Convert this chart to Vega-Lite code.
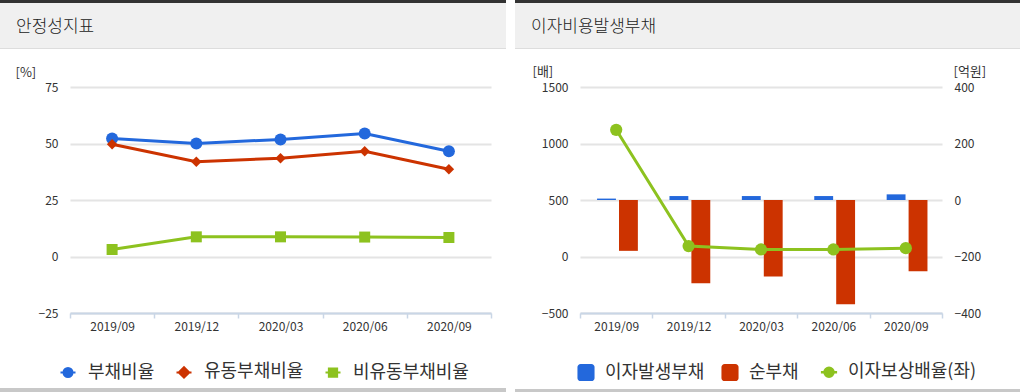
{
  "$schema": "https://vega.github.io/schema/vega-lite/v6.json",
  "padding": 0,
  "background": "white",
  "config": {
    "font": "Noto Sans CJK KR",
    "view": {"stroke": null},
    "axis": {"labelColor": "#333333", "labelFontSize": 12, "titleColor": "#333333", "titleFontWeight": "normal", "titleFontSize": 13},
    "legend": {"labelColor": "#333333", "labelFontSize": 18}
  },
  "datasets": {
    "left": [
      {"date": "2019/09", "series": "부채비율", "value": 52.2},
      {"date": "2019/12", "series": "부채비율", "value": 50.0},
      {"date": "2020/03", "series": "부채비율", "value": 51.8},
      {"date": "2020/06", "series": "부채비율", "value": 54.4},
      {"date": "2020/09", "series": "부채비율", "value": 46.6},
      {"date": "2019/09", "series": "유동부채비율", "value": 49.7},
      {"date": "2019/12", "series": "유동부채비율", "value": 41.9},
      {"date": "2020/03", "series": "유동부채비율", "value": 43.5},
      {"date": "2020/06", "series": "유동부채비율", "value": 46.6},
      {"date": "2020/09", "series": "유동부채비율", "value": 38.6},
      {"date": "2019/09", "series": "비유동부채비율", "value": 3.1},
      {"date": "2019/12", "series": "비유동부채비율", "value": 8.7},
      {"date": "2020/03", "series": "비유동부채비율", "value": 8.7},
      {"date": "2020/06", "series": "비유동부채비율", "value": 8.6},
      {"date": "2020/09", "series": "비유동부채비율", "value": 8.4}
    ],
    "bars": [
      {"date": "2019/09", "series": "이자발생부채", "value": 5},
      {"date": "2019/12", "series": "이자발생부채", "value": 14},
      {"date": "2020/03", "series": "이자발생부채", "value": 14},
      {"date": "2020/06", "series": "이자발생부채", "value": 14},
      {"date": "2020/09", "series": "이자발생부채", "value": 20},
      {"date": "2019/09", "series": "순부채", "value": -180},
      {"date": "2019/12", "series": "순부채", "value": -295},
      {"date": "2020/03", "series": "순부채", "value": -271},
      {"date": "2020/06", "series": "순부채", "value": -369},
      {"date": "2020/09", "series": "순부채", "value": -252}
    ],
    "ratio": [
      {"date": "2019/09", "value": 1121},
      {"date": "2019/12", "value": 92},
      {"date": "2020/03", "value": 62},
      {"date": "2020/06", "value": 62},
      {"date": "2020/09", "value": 74}
    ]
  },
  "spacing": 9,
  "resolve": {"scale": {"color": "independent"}, "legend": {"color": "independent"}},
  "hconcat": [
    {
      "spacing": 0,
      "resolve": {"scale": {"color": "independent"}, "legend": {"color": "independent"}},
      "vconcat": [
        {"width": 506, "height": 3, "data": {"values": []}, "mark": "point", "view": {"fill": "#333333", "stroke": null}},
        {"width": 506, "height": 45, "data": {"values": []}, "mark": "point", "view": {"fill": "#f0f0f0", "stroke": null},
         "title": {"text": "안정성지표", "anchor": "start", "frame": "group", "offset": 0, "dx": 16, "dy": 46, "baseline": "alphabetic", "fontSize": 17, "fontWeight": 300, "color": "#222222"}},
        {"width": 506, "height": 1, "data": {"values": []}, "mark": "point", "view": {"fill": "#dddddd", "stroke": null}},
        {"width": 506, "height": 17, "data": {"values": []}, "mark": "point"},
        {
          "width": 506,
          "height": 226,
          "data": {"name": "left"},
          "encoding": {
            "x": {"field": "date", "type": "ordinal", "scale": {"type": "band", "paddingInner": 0, "paddingOuter": 0, "range": [70, 491]},
                  "axis": {"title": null, "labelAngle": 0, "domainColor": "#c9d6e6", "domainWidth": 2, "tickColor": "#c9d6e6", "tickWidth": 1.5, "tickSize": 5, "tickBand": "extent", "labelPadding": 3, "grid": false}},
            "y": {"field": "value", "type": "quantitative", "scale": {"domain": [-25, 75], "nice": false, "zero": false},
                  "axis": {"values": [-25, 0, 25, 50, 75], "offset": -70, "domain": false, "ticks": false, "grid": true, "gridColor": "#e4e4e4", "gridWidth": 2, "labelPadding": 12, "title": "[%]", "titleAngle": 0, "titleAlign": "left", "titleBaseline": "middle", "titleX": -55, "titleY": -15}}
          },
          "layer": [
            {"mark": {"type": "line", "strokeWidth": 3},
             "encoding": {
               "color": {"field": "series", "type": "nominal",
                      "scale": {"domain": ["부채비율", "유동부채비율", "비유동부채비율"], "range": ["#2368dc", "#cc3300", "#8dc21f"]},
                      "legend": {"orient": "none", "legendX": 59, "legendY": 276, "direction": "horizontal", "title": null, "symbolSize": 225, "labelOffset": 11, "columnPadding": 17,
                                 "encoding": {"symbols": {
                                   "shape": {"value": {"expr": "datum.value === '부채비율' ? 'M-1,0H1M-0.6,0A0.6,0.6 0 1 1 0.6,0A0.6,0.6 0 1 1 -0.6,0Z' : datum.value === '유동부채비율' ? 'M-1,0H1M-0.7,0L0,-0.7L0.7,0L0,0.7Z' : 'M-1,0H1M-0.55,-0.55H0.55V0.55H-0.55Z'"}},
                                   "fill": {"value": {"expr": "datum.value === '부채비율' ? '#2368dc' : datum.value === '유동부채비율' ? '#cc3300' : '#8dc21f'"}},
                                   "stroke": {"value": {"expr": "datum.value === '부채비율' ? '#2368dc' : datum.value === '유동부채비율' ? '#cc3300' : '#8dc21f'"}},
                                   "strokeWidth": {"value": 2},
                                   "opacity": {"value": 1},
                                   "fillOpacity": {"value": 1}
                                 }}}}}},
            {"transform": [{"filter": "datum.series === '부채비율'"}],
             "mark": {"type": "point", "filled": true, "opacity": 1, "shape": "circle", "size": 144, "color": "#2368dc"}},
            {"transform": [{"filter": "datum.series === '유동부채비율'"}],
             "mark": {"type": "point", "filled": true, "opacity": 1, "shape": "diamond", "size": 110, "color": "#cc3300"}},
            {"transform": [{"filter": "datum.series === '비유동부채비율'"}],
             "mark": {"type": "point", "filled": true, "opacity": 1, "shape": "square", "size": 121, "color": "#8dc21f"}}
          ]
        },
        {"width": 506, "height": 6, "data": {"values": []}, "mark": "point"},
        {"width": 506, "height": 4, "data": {"values": []}, "mark": "point", "view": {"fill": "#c8c8c8", "stroke": null}}
      ]
    },
    {
      "spacing": 0,
      "resolve": {"scale": {"color": "independent"}, "legend": {"color": "independent"}},
      "vconcat": [
        {"width": 505, "height": 3, "data": {"values": []}, "mark": "point", "view": {"fill": "#333333", "stroke": null}},
        {"width": 505, "height": 45, "data": {"values": []}, "mark": "point", "view": {"fill": "#f0f0f0", "stroke": null},
         "title": {"text": "이자비용발생부채", "anchor": "start", "frame": "group", "offset": 0, "dx": 16, "dy": 46, "baseline": "alphabetic", "fontSize": 17, "fontWeight": 300, "color": "#222222"}},
        {"width": 505, "height": 1, "data": {"values": []}, "mark": "point", "view": {"fill": "#dddddd", "stroke": null}},
        {"width": 505, "height": 16, "data": {"values": []}, "mark": "point"},
        {
          "width": 505,
          "height": 226,
          "layer": [
            {
              "data": {"name": "bars"},
              "mark": {"type": "bar"},
              "encoding": {
                "x": {"field": "date", "type": "ordinal", "scale": {"type": "band", "paddingInner": 0, "paddingOuter": 0, "range": [65, 427]},
                      "axis": {"title": null, "labelAngle": 0, "domainColor": "#c9d6e6", "domainWidth": 2, "tickColor": "#c9d6e6", "tickWidth": 1.5, "tickSize": 5, "tickBand": "extent", "labelPadding": 3, "grid": false}},
                "xOffset": {"field": "series", "type": "nominal", "scale": {"domain": ["이자발생부채", "순부채"], "paddingInner": 0.14, "paddingOuter": 0.72, "align": 0.54}},
                "y": {"field": "value", "type": "quantitative", "scale": {"domain": [-400, 400], "nice": false},
                      "axis": {"orient": "right", "offset": -78, "values": [-400, -200, 0, 200, 400], "format": "d", "domain": false, "ticks": false, "grid": false, "labelPadding": 12, "title": "[억원]", "titleAngle": 0, "titleAlign": "left", "titleBaseline": "middle", "titleX": 11, "titleY": -16}},
                "color": {"field": "series", "type": "nominal",
                          "scale": {"domain": ["이자발생부채", "순부채", "이자보상배율(좌)"], "range": ["#2368dc", "#cc3300", "#8dc21f"]},
                          "legend": {"orient": "none", "legendX": 62, "legendY": 276, "direction": "horizontal", "title": null, "symbolSize": 324, "labelOffset": 10, "columnPadding": 16,
                                     "encoding": {"symbols": {
                                       "shape": {"value": {"expr": "datum.value === '이자보상배율(좌)' ? 'M-0.9,0H0.9M-0.5,0A0.5,0.5 0 1 1 0.5,0A0.5,0.5 0 1 1 -0.5,0Z' : 'M-0.6,-0.95H0.6A0.35,0.35 0 0 1 0.95,-0.6V0.6A0.35,0.35 0 0 1 0.6,0.95H-0.6A0.35,0.35 0 0 1 -0.95,0.6V-0.6A0.35,0.35 0 0 1 -0.6,-0.95Z'"}},
                                       "fill": {"value": {"expr": "datum.value === '이자발생부채' ? '#2368dc' : datum.value === '순부채' ? '#cc3300' : '#8dc21f'"}},
                                       "stroke": {"value": {"expr": "datum.value === '이자발생부채' ? '#2368dc' : datum.value === '순부채' ? '#cc3300' : '#8dc21f'"}},
                                       "strokeWidth": {"value": {"expr": "datum.value === '이자보상배율(좌)' ? 2.5 : 0"}},
                                       "opacity": {"value": 1},
                                       "fillOpacity": {"value": 1}
                                     }}}}
              }
            },
            {
              "data": {"name": "ratio"},
              "encoding": {
                "x": {"field": "date", "type": "ordinal", "scale": {"type": "band", "paddingInner": 0, "paddingOuter": 0, "range": [65, 427]}},
                "y": {"field": "value", "type": "quantitative", "scale": {"domain": [-500, 1500], "nice": false},
                      "axis": {"orient": "left", "offset": -65, "values": [-500, 0, 500, 1000, 1500], "format": "d", "domain": false, "ticks": false, "grid": true, "gridColor": "#e4e4e4", "gridWidth": 2, "labelPadding": 12, "title": "[배]", "titleAngle": 0, "titleAlign": "left", "titleBaseline": "middle", "titleX": -48, "titleY": -16}},
                "color": {"datum": "이자보상배율(좌)", "type": "nominal",
                          "scale": {"domain": ["이자발생부채", "순부채", "이자보상배율(좌)"], "range": ["#2368dc", "#cc3300", "#8dc21f"]}}
              },
              "layer": [
                {"mark": {"type": "line", "strokeWidth": 3}},
                {"mark": {"type": "point", "filled": true, "opacity": 1, "size": 150}}
              ]
            }
          ],
          "resolve": {"scale": {"y": "independent"}}
        },
        {"width": 505, "height": 7, "data": {"values": []}, "mark": "point"},
        {"width": 505, "height": 4, "data": {"values": []}, "mark": "point", "view": {"fill": "#c8c8c8", "stroke": null}}
      ]
    }
  ]
}
